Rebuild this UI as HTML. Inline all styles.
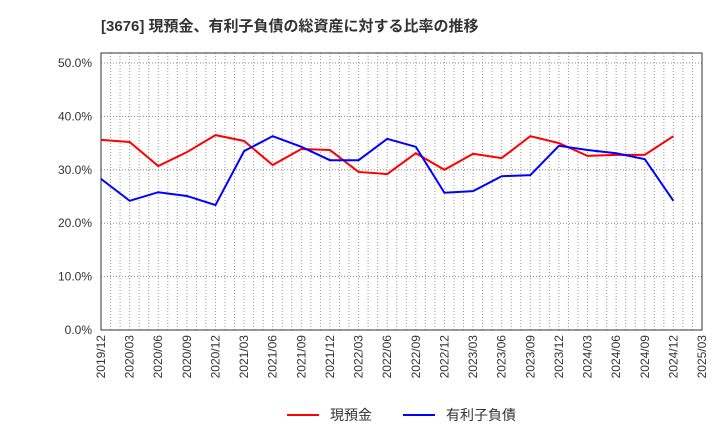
<!DOCTYPE html>
<html><head><meta charset="utf-8"><style>
body{margin:0;background:#fff;font-family:"Liberation Sans","Noto Sans CJK JP",sans-serif;}
</style></head><body>
<svg width="720" height="440" xmlns="http://www.w3.org/2000/svg" id="chart">
<text x="101" y="31" font-size="15" font-weight="bold" fill="#333" font-family="Liberation Sans, Noto Sans CJK JP, sans-serif">[3676]  現預金、有利子負債の総資産に対する比率の推移</text>
<g id="grid"></g><g id="axes"></g><g id="series"></g>
<g>
<line x1="287" y1="415" x2="319" y2="415" stroke="#f00" stroke-width="2"/>
<text x="330" y="420" font-size="14" fill="#333">現預金</text>
<line x1="403" y1="415" x2="435" y2="415" stroke="#00f" stroke-width="2"/>
<text x="446" y="420" font-size="14" fill="#333">有利子負債</text>
</g>
</svg>
<script>
const categories=["2019/12","2020/03","2020/06","2020/09","2020/12","2021/03","2021/06","2021/09","2021/12","2022/03","2022/06","2022/09","2022/12","2023/03","2023/06","2023/09","2023/12","2024/03","2024/06","2024/09","2024/12","2025/03"];
const cashValues=[35.6,35.2,30.7,33.3,36.5,35.4,30.9,33.9,33.7,29.6,29.2,33.1,30.0,33.0,32.2,36.3,35.0,32.6,32.8,32.8,36.3];
const debtValues=[28.3,24.2,25.8,25.1,23.4,33.5,36.3,34.3,31.8,31.8,35.8,34.3,25.7,26.0,28.8,29.0,34.5,33.7,33.1,32.0,24.2];
const yTicks=[0,10,20,30,40,50];
const L=101,R=702,T=53,B=330,Y50=63;
const xs=i=>L+(R-L)*i/(categories.length-1);
const ys=v=>B-(B-Y50)*v/50;
const NS="http://www.w3.org/2000/svg";
function mk(tag,attrs,parent){const e=document.createElementNS(NS,tag);for(const k in attrs)e.setAttribute(k,attrs[k]);parent.appendChild(e);return e;}
const grid=document.getElementById('grid'),axes=document.getElementById('axes'),series=document.getElementById('series');
const nMonths=(categories.length-1)*3;
for(let m=1;m<nMonths;m++){const x=L+(R-L)*m/nMonths;
const g=mk('line',{x1:x,x2:x,y1:T,y2:B,stroke:'#999','stroke-width':1,'stroke-dasharray':'1,2'},grid);

}
yTicks.forEach(v=>{const y=ys(v);
if(v>0){const g=mk('line',{x1:L,x2:R,y1:y,y2:y,stroke:'#888','stroke-width':1,'stroke-dasharray':'1,2'},grid);

}
const t=mk('text',{x:L-9,y:y+4,'font-size':12,fill:'#333','text-anchor':'end'},axes);t.textContent=v.toFixed(1)+'%';

});
const box=mk('rect',{x:L,y:T,width:R-L,height:B-T,fill:'none',stroke:'#333','stroke-width':1},axes);


categories.forEach((c,i)=>{const x=xs(i)+4;const t=mk('text',{x:x,y:B+5,'font-size':12,fill:'#333','text-anchor':'end',transform:`rotate(-90 ${x} ${B+5})`},axes);t.textContent=c;

});
function line(vals,color,name){const pts=vals.map((v,i)=>xs(i)+','+ys(v)).join(' ');
const p=mk('polyline',{points:pts,fill:'none',stroke:color,'stroke-width':2},series);

}
line(cashValues,'#f00','cash-line');
line(debtValues,'#00f','debt-line');
</script>
</body></html>
